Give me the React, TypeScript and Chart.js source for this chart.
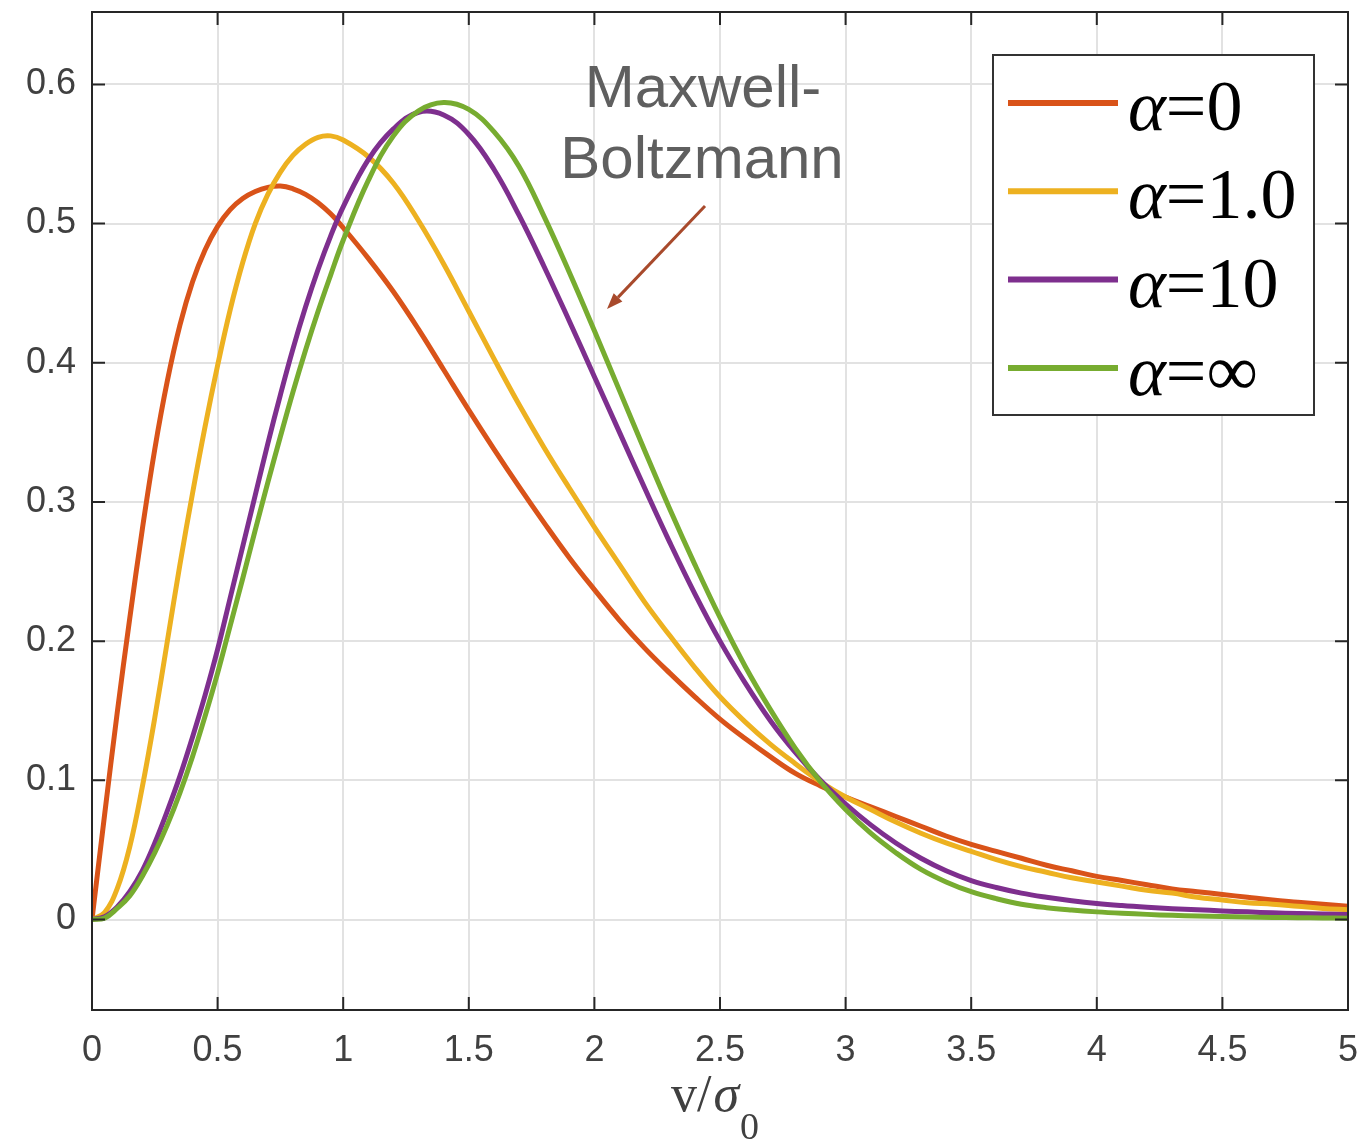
import React, { useEffect, useRef } from 'react';
import { Chart, registerables } from 'chart.js';

Chart.register(...registerables);

// v / sigma_0 sample positions
const V = [
  0, 0.05, 0.1, 0.15, 0.2, 0.25, 0.3, 0.35, 0.4, 0.45,
  0.5, 0.55, 0.6, 0.65, 0.7, 0.75, 0.8, 0.85, 0.9, 0.95,
  1.0, 1.1, 1.2, 1.3, 1.4,
  1.5, 1.6, 1.7, 1.8, 1.9, 2.0, 2.1, 2.2, 2.3, 2.4,
  2.5, 2.6, 2.7, 2.8, 2.9, 3.0, 3.1, 3.2, 3.3, 3.4,
  3.5, 3.6, 3.7, 3.8, 3.9, 4.0, 4.1, 4.2, 4.3, 4.4,
  4.5, 4.6, 4.7, 4.8, 4.9, 5.0,
];

// alpha = 0
const ALPHA_0 = [
  0, 0.075, 0.148, 0.216, 0.28, 0.338, 0.387, 0.427, 0.458, 0.481,
  0.498, 0.51, 0.518, 0.523, 0.526, 0.527, 0.525, 0.521, 0.515, 0.507,
  0.497, 0.475, 0.451, 0.424, 0.395,
  0.366, 0.338, 0.311, 0.285, 0.26, 0.237, 0.215, 0.195, 0.177, 0.16,
  0.144, 0.13, 0.117, 0.105, 0.096, 0.088, 0.081, 0.074, 0.067, 0.06,
  0.054, 0.049, 0.044, 0.039, 0.035, 0.031, 0.028, 0.025, 0.022, 0.02,
  0.018, 0.016, 0.014, 0.0125, 0.011, 0.0095,
];

// alpha = 1.0
const ALPHA_1 = [
  0, 0.005, 0.022, 0.052, 0.095, 0.145, 0.2, 0.255, 0.306, 0.354,
  0.398, 0.438, 0.472, 0.5, 0.521, 0.537, 0.549, 0.557, 0.562, 0.563,
  0.56, 0.548, 0.529, 0.502, 0.471,
  0.437, 0.403, 0.37, 0.339, 0.31, 0.282, 0.255, 0.228, 0.204, 0.181,
  0.16, 0.142, 0.126, 0.112, 0.099, 0.088, 0.079, 0.07, 0.062, 0.055,
  0.049, 0.043, 0.038, 0.034, 0.03, 0.027, 0.024, 0.021, 0.019, 0.016,
  0.014, 0.012, 0.011, 0.0095, 0.008, 0.007,
];

// alpha = 10
const ALPHA_10 = [
  0, 0.002, 0.009, 0.02, 0.035, 0.055, 0.078, 0.103, 0.131, 0.161,
  0.194, 0.231, 0.268, 0.305, 0.342, 0.377, 0.41, 0.44, 0.467, 0.491,
  0.512, 0.546, 0.568, 0.58, 0.578,
  0.564, 0.539, 0.506, 0.469, 0.43, 0.39, 0.35, 0.31, 0.271, 0.234,
  0.2, 0.17, 0.143, 0.12, 0.1, 0.083, 0.068, 0.055, 0.044, 0.035,
  0.028, 0.023, 0.019, 0.016, 0.0135, 0.0115, 0.01, 0.0088, 0.0078, 0.007,
  0.0062, 0.0055, 0.0048, 0.0043, 0.004, 0.0036,
];

// alpha = infinity (Maxwell-Boltzmann)
const ALPHA_INF = [
  0, 0.001, 0.008, 0.017, 0.031, 0.048, 0.068, 0.091, 0.117, 0.146,
  0.177, 0.211, 0.245, 0.28, 0.314, 0.347, 0.379, 0.409, 0.437, 0.463,
  0.488, 0.531, 0.563, 0.581, 0.587,
  0.582, 0.566, 0.541, 0.505, 0.465, 0.423, 0.38, 0.337, 0.295, 0.255,
  0.217, 0.182, 0.151, 0.123, 0.099, 0.079, 0.062, 0.048, 0.036, 0.027,
  0.02, 0.015, 0.011, 0.0085, 0.0068, 0.0055, 0.0045, 0.0037, 0.003, 0.0025,
  0.0021, 0.0018, 0.0015, 0.0013, 0.0011, 0.001,
];

const SERIES_LABELS = ['0', '1.0', '10', '\u221E'];
const SERIES_COLORS = ['#D95319', '#EDB120', '#7E2F8E', '#77AC30'];
const X_TICKS = [0, 0.5, 1, 1.5, 2, 2.5, 3, 3.5, 4, 4.5, 5];
const Y_TICKS = [0, 0.1, 0.2, 0.3, 0.4, 0.5, 0.6];
const ANNOTATION_LINES = ['Maxwell-', 'Boltzmann'];

const SANS = '"Liberation Sans", Arial, Helvetica, sans-serif';
const SERIF = '"Liberation Serif", "Times New Roman", serif';

const overlayPlugin = {
  id: 'overlay',
  afterDraw(chart: any) {
    const { ctx, chartArea: ca, scales } = chart;
    const xs = scales.x;
    const ys = scales.y;
    ctx.save();

    // box + inward ticks
    ctx.strokeStyle = '#262626';
    ctx.lineWidth = 2;
    ctx.strokeRect(ca.left, ca.top, ca.right - ca.left, ca.bottom - ca.top);
    const tl = 13;
    ctx.beginPath();
    for (const v of X_TICKS) {
      const px = xs.getPixelForValue(v);
      ctx.moveTo(px, ca.bottom);
      ctx.lineTo(px, ca.bottom - tl);
      ctx.moveTo(px, ca.top);
      ctx.lineTo(px, ca.top + tl);
    }
    for (const v of Y_TICKS) {
      const py = ys.getPixelForValue(v);
      ctx.moveTo(ca.left, py);
      ctx.lineTo(ca.left + tl, py);
      ctx.moveTo(ca.right, py);
      ctx.lineTo(ca.right - tl, py);
    }
    ctx.stroke();

    // annotation text
    ctx.fillStyle = '#5f5f5f';
    ctx.font = `60px ${SANS}`;
    ctx.textAlign = 'center';
    ctx.textBaseline = 'alphabetic';
    ctx.fillText(ANNOTATION_LINES[0], 703, 107);
    ctx.fillText(ANNOTATION_LINES[1], 702, 178);

    // arrow
    const ax0 = 705, ay0 = 206, ax1 = 607, ay1 = 309;
    ctx.strokeStyle = '#A84A2C';
    ctx.fillStyle = '#A84A2C';
    ctx.lineWidth = 3;
    const ang = Math.atan2(ay1 - ay0, ax1 - ax0);
    const hl = 16, hw = 6;
    const bx = ax1 - hl * Math.cos(ang);
    const by = ay1 - hl * Math.sin(ang);
    ctx.beginPath();
    ctx.moveTo(ax0, ay0);
    ctx.lineTo(bx, by);
    ctx.stroke();
    ctx.beginPath();
    ctx.moveTo(ax1, ay1);
    ctx.lineTo(bx + hw * Math.sin(ang), by - hw * Math.cos(ang));
    ctx.lineTo(bx - hw * Math.sin(ang), by + hw * Math.cos(ang));
    ctx.closePath();
    ctx.fill();

    // legend
    const lx = 993, ly = 55, lw = 321, lh = 360;
    ctx.fillStyle = '#ffffff';
    ctx.fillRect(lx, ly, lw, lh);
    ctx.strokeStyle = '#333333';
    ctx.lineWidth = 2;
    ctx.strokeRect(lx, ly, lw, lh);
    ctx.textAlign = 'left';
    SERIES_LABELS.forEach((lab, i) => {
      const cy = 103 + i * 88.3;
      ctx.strokeStyle = SERIES_COLORS[i];
      ctx.lineWidth = 6;
      ctx.beginPath();
      ctx.moveTo(1008, cy);
      ctx.lineTo(1118, cy);
      ctx.stroke();
      ctx.fillStyle = '#000000';
      ctx.font = `italic 72px ${SERIF}`;
      const base = cy + 27;
      ctx.fillText('\u03B1', 1128, base);
      const w = ctx.measureText('\u03B1').width;
      ctx.font = `72px ${SERIF}`;
      ctx.fillText('=' + lab, 1128 + w, base);
    });

    // x axis title: v/σ0
    ctx.fillStyle = '#404040';
    ctx.font = `52px ${SERIF}`;
    let tx = 671;
    const tb = 1111;
    ctx.fillText('v/', tx, tb);
    tx += ctx.measureText('v/').width + 2;
    ctx.font = `italic 52px ${SERIF}`;
    ctx.fillText('\u03C3', tx, tb);
    tx += ctx.measureText('\u03C3').width + 1;
    ctx.font = `38px ${SERIF}`;
    ctx.fillText('0', tx, 1139);

    ctx.restore();
  },
};

const zeroPad = (s: any) => {
  s.paddingTop = 0;
  s.paddingBottom = 0;
  s.paddingLeft = 0;
  s.paddingRight = 0;
};

export default function App() {
  const ref = useRef<HTMLCanvasElement | null>(null);
  useEffect(() => {
    if (!ref.current) return;
    const series = [ALPHA_0, ALPHA_1, ALPHA_10, ALPHA_INF];
    const chart = new Chart(ref.current, {
      type: 'line',
      data: {
        datasets: series.map((arr, i) => ({
          label: '\u03B1=' + SERIES_LABELS[i],
          data: V.map((v, k) => ({ x: v, y: arr[k] })),
          borderColor: SERIES_COLORS[i],
          backgroundColor: SERIES_COLORS[i],
          borderWidth: 5,
          pointRadius: 0,
          fill: false,
          tension: 0.4,
          order: 4 - i,
        })),
      },
      options: {
        responsive: false,
        animation: false,
        devicePixelRatio: 1,
        layout: { padding: { left: 0, top: 12, right: 14, bottom: 0 } },
        plugins: {
          legend: { display: false },
          tooltip: { enabled: false },
        },
        scales: {
          x: {
            type: 'linear',
            min: 0,
            max: 5,
            afterFit: (s: any) => { s.height = 131; zeroPad(s); },
            afterBuildTicks: (s: any) => { s.ticks = X_TICKS.map((v) => ({ value: v })); },
            ticks: {
              autoSkip: false,
              maxRotation: 0,
              padding: 19,
              color: '#404040',
              font: { family: SANS, size: 36 },
              callback: (v: any) => String(v),
            },
            grid: { color: '#e2e2e2', lineWidth: 2, drawTicks: false },
            border: { display: false },
          },
          y: {
            type: 'linear',
            min: -0.065,
            max: 0.652,
            afterFit: (s: any) => { s.width = 92; zeroPad(s); },
            afterBuildTicks: (s: any) => { s.ticks = Y_TICKS.map((v) => ({ value: v })); },
            ticks: {
              padding: 16,
              color: '#404040',
              font: { family: SANS, size: 36 },
              callback: (v: any) => (Number(v) === 0 ? '0' : Number(v).toFixed(1)),
            },
            grid: { color: '#e2e2e2', lineWidth: 2, drawTicks: false },
            border: { display: false },
          },
        },
      },
      plugins: [overlayPlugin],
    });
    return () => chart.destroy();
  }, []);

  return (
    <div style={{ position: 'absolute', left: 0, top: 0, width: 1362, height: 1141, background: '#ffffff' }}>
      <canvas ref={ref} width={1362} height={1141} style={{ display: 'block' }} />
    </div>
  );
}
